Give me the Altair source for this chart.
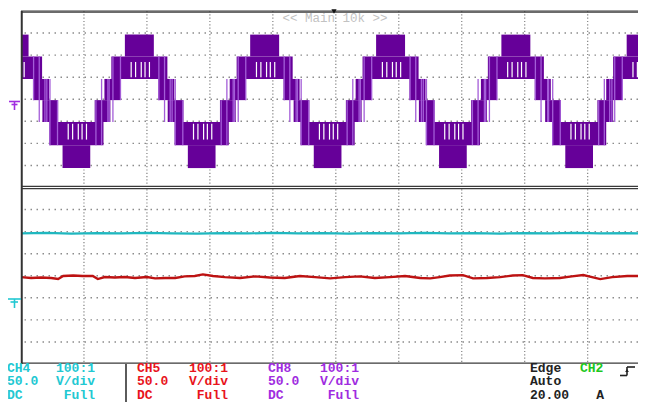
import altair as alt
import pandas as pd

# ---------------- values ----------------
# time axis: divisions from the left edge of the graticule (about 63 px / div)
ch8_peak_t = [-0.11, 1.88, 3.87, 5.87, 7.86, 9.85]
ch8_trough_t = [0.88, 2.87, 4.87, 6.86, 8.865]
# CH8 output levels, divisions from the centre of the upper graticule (top -> bottom)
ch8_levels = [2.93, 1.94, 0.92, -0.04, -1.03, -2.08, -3.12]
# half widths of the switching bands around a crest / trough (div)
crest_outer, crest_mid, crest_inner = 0.23, 0.445, (0.30, 0.555)
trough_outer, trough_mid, trough_inner = 0.22, 0.43, (0.29, 0.54)
# white gaps inside the middle band under each crest / trough (div from centre)
gap_offsets = [-0.13, -0.06, 0.03, 0.09, 0.16]
# light over-shoot spikes of a crest: (offset div, from level index, to level index)
spike_defs = [(-0.50, 2, 4), (-0.42, 1, 4), (-0.30, 1, 3),
              (0.31, 1, 3), (0.40, 1, 4), (0.52, 2, 4)]

# CH4 (cyan) and CH5 (red): time (div) and value (div from centre of lower graticule)
cyan_t = [0.0, 0.4, 0.8, 1.2, 1.6, 2.0, 2.4, 2.8, 3.2, 3.6, 4.0, 4.4, 4.8,
          5.2, 5.6, 6.0, 6.4, 6.8, 7.2, 7.6, 8.0, 8.4, 8.8, 9.2, 9.6, 9.8]
cyan_v = [1.92, 1.94, 1.91, 1.93, 1.92, 1.94, 1.92, 1.91, 1.93, 1.92, 1.94, 1.92, 1.93,
          1.91, 1.93, 1.92, 1.94, 1.92, 1.93, 1.91, 1.93, 1.92, 1.94, 1.92, 1.93, 1.92]
red_t = [0.00, 0.16, 0.32, 0.48, 0.59, 0.67, 0.83, 0.98, 1.14, 1.22, 1.33, 1.49, 1.65,
         1.81, 2.00, 2.13, 2.29, 2.45, 2.60, 2.76, 2.89, 3.05, 3.24, 3.48, 3.72, 3.95,
         4.19, 4.43, 4.67, 4.91, 5.15, 5.38, 5.62, 5.86, 6.10, 6.34, 6.50, 6.65, 6.81,
         7.02, 7.18, 7.40, 7.61, 7.81, 7.97, 8.13, 8.32, 8.56, 8.75, 8.93, 9.07, 9.20,
         9.39, 9.63, 9.83]
red_v = [-0.06, -0.10, -0.08, -0.10, -0.15, -0.01, 0.01, -0.01, -0.01, -0.15, -0.06, -0.08,
         -0.06, -0.10, -0.06, -0.12, -0.10, -0.10, -0.03, -0.01, 0.06, -0.01, -0.06, -0.10,
         -0.03, -0.08, -0.10, -0.01, -0.06, -0.12, -0.06, -0.03, -0.10, -0.06, -0.01, -0.10,
         -0.12, -0.06, 0.01, 0.03, -0.12, -0.10, -0.06, 0.01, 0.03, -0.10, -0.12, -0.10,
         -0.03, 0.03, -0.06, -0.15, -0.06, -0.01, -0.01]

# status line texts
ch4_left, ch4_right = ["CH4", "50.0", "DC"], ["100:1", "V/div", "Full"]
ch5_left, ch5_right = ["CH5", "50.0", "DC"], ["100:1", "V/div", "Full"]
ch8_left, ch8_right = ["CH8", "50.0", "DC"], ["100:1", "V/div", "Full"]
trig_left = ["Edge", "Auto", "20.00"]
trig_src, trig_unit = "CH2", "A"
banner = "<< Main 10k >>"

# ---------------- layout / style ----------------
W, H = 617, 353
XMAX = W / 62.96
UP, LO = 4.0, -4.0
PURPLE, PURPLE_L = "#660099", "#a45dd8"
CYAN_T, RED_T = "#1fb7bf", "#bd1212"
CYAN_S, RED_S, PURPLE_S, GREEN_S = "#22c8d2", "#e8141c", "#a02ce0", "#1ec81e"
FONT = "Liberation Mono"

xs = alt.Scale(domain=[0, XMAX], nice=False, zero=False)
ys = alt.Scale(domain=[-8, 8], nice=False, zero=False)


def X(f):
    return alt.X(f, type="quantitative", scale=xs, axis=None)


def Y(f):
    return alt.Y(f, type="quantitative", scale=ys, axis=None)


L = [v + UP for v in ch8_levels]
rects = []
for p in ch8_peak_t:
    rects.append((p - crest_outer, p + crest_outer, L[1], L[0]))
    rects.append((p - crest_mid, p + crest_mid, L[2], L[1]))
    for s in (-1, 1):
        a, b = p + s * crest_inner[0], p + s * crest_inner[1]
        rects.append((min(a, b), max(a, b), L[3], L[2]))
for t in ch8_trough_t:
    rects.append((t - trough_outer, t + trough_outer, L[6], L[5]))
    rects.append((t - trough_mid, t + trough_mid, L[5], L[4]))
    for s in (-1, 1):
        a, b = t + s * trough_inner[0], t + s * trough_inner[1]
        rects.append((min(a, b), max(a, b), L[4], L[3]))
rect_df = pd.DataFrame(rects, columns=["x", "x2", "y", "y2"])

gaps = []
for p in ch8_peak_t:
    for g in gap_offsets:
        gaps.append((p + g, L[2] + 0.08, L[1] - 0.25))
for t in ch8_trough_t:
    for g in gap_offsets:
        gaps.append((t + g, L[5] + 0.25, L[4] - 0.08))
gap_df = pd.DataFrame(gaps, columns=["x", "y", "y2"])

spikes = []
for p in ch8_peak_t:
    for off, a, b in spike_defs:
        spikes.append((p + off, L[a], L[b]))
for t in ch8_trough_t:
    for off, a, b in spike_defs:
        spikes.append((t + off, L[6 - a], L[6 - b]))
spike_df = pd.DataFrame(spikes, columns=["x", "y", "y2"])

cyan_df = pd.DataFrame({"t": cyan_t, "v": [v + LO for v in cyan_v]})
red_df = pd.DataFrame({"t": red_t, "v": [v + LO for v in red_v]})

# graticule
hgrid = pd.DataFrame({"y": [UP + k for k in (3, 2, 1, 0, -1, -2, -3)] +
                           [LO + k for k in (3, 2, 1, 0, -1, -2, -3)]})
vgrid = pd.DataFrame({"x": list(range(1, 10))})

hgrid_l = alt.Chart(hgrid).mark_rule(color="#8c8c8c", strokeWidth=1.4,
                                     strokeDash=[1.5, 4.5]).encode(y=Y("y"))
vgrid_l = alt.Chart(vgrid).mark_rule(color="#8c8c8c", strokeWidth=1.3,
                                     strokeDash=[1.2, 2.1]).encode(x=X("x"))
frame_h = alt.Chart(pd.DataFrame({"y": [8, 8 - 0.05, 0.05, -0.05, -8 + 0.04]})).mark_rule(
    color="#3a3a3a", strokeWidth=1.2).encode(y=Y("y"))
frame_v = alt.Chart(pd.DataFrame({"x": [0.012]})).mark_rule(
    color="#333333", strokeWidth=2).encode(x=X("x"))

rect_l = alt.Chart(rect_df).mark_rect(color=PURPLE, clip=True).encode(
    x=X("x"), x2="x2", y=Y("y"), y2="y2")
spike_l = alt.Chart(spike_df).mark_rule(color=PURPLE_L, strokeWidth=1.3, clip=True).encode(
    x=X("x"), y=Y("y"), y2="y2")
gap_l = alt.Chart(gap_df).mark_rule(color="#ffffff", strokeWidth=1.2, clip=True).encode(
    x=X("x"), y=Y("y"), y2="y2")

cyan_l = alt.Chart(cyan_df).mark_line(color=CYAN_T, strokeWidth=2.2, clip=True).encode(
    x=X("t"), y=Y("v"))
red_l = alt.Chart(red_df).mark_line(color=RED_T, strokeWidth=2.4, clip=True).encode(
    x=X("t"), y=Y("v"))

# status line texts (pixel positions relative to the graticule origin)
rows = [356.5, 370.0, 383.5]
left_rows, right_rows = [], []
for words, xl, col in ((ch4_left, -14, CYAN_S), (ch5_left, 116, RED_S),
                       (ch8_left, 247, PURPLE_S), (trig_left, 509, "#222222")):
    for w, yy in zip(words, rows):
        left_rows.append({"text": w, "px": xl, "py": yy, "c": col})
left_rows.append({"text": trig_src, "px": 559, "py": rows[0], "c": GREEN_S})
for words, xr, col in ((ch4_right, 74, CYAN_S), (ch5_right, 207, RED_S),
                       (ch8_right, 338, PURPLE_S)):
    for w, yy in zip(words, rows):
        right_rows.append({"text": w, "px": xr, "py": yy, "c": col})
right_rows.append({"text": trig_unit, "px": 583, "py": rows[2], "c": "#222222"})

PX = alt.X("px:Q", scale=None, axis=None)
PY = alt.Y("py:Q", scale=None, axis=None)
txt_left = alt.Chart(pd.DataFrame(left_rows)).mark_text(
    align="left", baseline="middle", font=FONT, fontSize=13, fontWeight="bold").encode(
    x=PX, y=PY, text="text:N", color=alt.Color("c:N", scale=None))
txt_right = alt.Chart(pd.DataFrame(right_rows)).mark_text(
    align="right", baseline="middle", font=FONT, fontSize=13, fontWeight="bold").encode(
    x=PX, y=PY, text="text:N", color=alt.Color("c:N", scale=None))
banner_l = alt.Chart(pd.DataFrame([{"text": banner, "px": 314, "py": 6.5}])).mark_text(
    align="center", baseline="middle", font=FONT, fontSize=12.5, color="#c2c2c2").encode(
    x=PX, y=PY, text="text:N")

# small decorations: ground markers, trigger symbol, selected-channel box
deco = [
    (-12, -1, 90.5, 90.5, PURPLE_S), (-9.5, -3.5, 93.5, 93.5, PURPLE_S), (-6.5, -6.5, 90.5, 99, PURPLE_S),
    (-13, 0, 288, 288, CYAN_S), (-10.5, -3, 291, 291, CYAN_S), (-6.5, -6.5, 288, 297, CYAN_S),
    (599, 606, 364.5, 364.5, "#222222"), (606, 606, 356, 364.5, "#222222"), (606, 614, 356, 356, "#222222"),
    (105, 105, 353, 396, "#333333"),
]
deco_df = pd.DataFrame(deco, columns=["px", "px2", "py", "py2", "c"])
deco_l = alt.Chart(deco_df).mark_rule(strokeWidth=1.6).encode(
    x=PX, x2="px2:Q", y=PY, y2="py2:Q", color=alt.Color("c:N", scale=None))
trig_mark = alt.Chart(pd.DataFrame([{"px": 313, "py": 0.5}])).mark_point(
    shape="triangle-down", filled=True, size=28, color="#111111", opacity=1).encode(x=PX, y=PY)
arrow_mark = alt.Chart(pd.DataFrame([{"px": 606, "py": 359.5}])).mark_point(
    shape="triangle-up", filled=True, size=14, color="#222222", opacity=1).encode(x=PX, y=PY)

chart = alt.layer(
    hgrid_l, vgrid_l, rect_l, spike_l, gap_l, cyan_l, red_l,
    frame_h, frame_v, banner_l, txt_left, txt_right, deco_l, trig_mark, arrow_mark,
).properties(
    width=W, height=H,
    padding={"left": 13, "top": 3, "right": 0, "bottom": 38},
    autosize=alt.AutoSizeParams(type="none"),
    background="white",
).configure_view(strokeWidth=0, stroke="transparent")

chart.save("out.html", embed_options={"renderer": "svg", "actions": False})
